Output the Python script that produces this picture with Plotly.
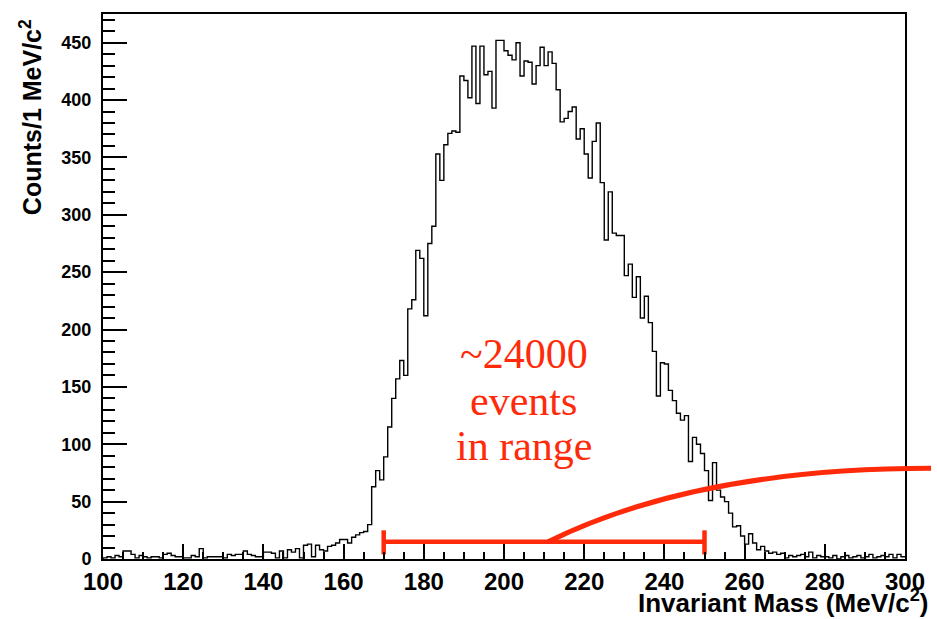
import plotly.graph_objects as go

# ---- data ----
bin_start = 100
bin_width = 1
counts = [
    1, 2, 1, 3, 2, 7, 7, 4, 1, 3,          # 100-109
    2, 1, 2, 2, 1, 4, 5, 3, 2, 2,          # 110-119
    1, 1, 3, 2, 9, 1, 2, 2, 2, 2,          # 120-129
    1, 4, 3, 4, 4, 7, 4, 3, 2, 2,          # 130-139
    6, 6, 5, 1, 7, 1, 8, 6, 9, 1,          # 140-149
    12, 13, 2, 12, 8, 7, 11, 12, 14, 17,   # 150-159
    17, 14, 19, 21, 23, 24, 30, 63, 77, 69,          # 160-169
    89, 115, 140, 157, 173, 160, 218, 226, 269, 262,  # 170-179
    212, 275, 290, 353, 330, 361, 371, 373, 372, 421, # 180-189
    417, 402, 447, 397, 447, 422, 425, 393, 452, 452, # 190-199
    443, 439, 435, 450, 421, 434, 433, 414, 430, 446, # 200-209
    430, 442, 432, 409, 381, 384, 390, 394, 366, 375, # 210-219
    353, 332, 364, 380, 328, 278, 320, 284, 282, 282, # 220-229
    247, 257, 228, 246, 210, 229, 206, 181, 142, 171, # 230-239
    170, 147, 138, 127, 121, 125, 85, 106, 100, 92,   # 240-249
    77, 51, 84, 60, 54, 50, 40, 28, 29, 20,           # 250-259
    13, 22, 14, 8, 11, 7, 5, 6, 4, 5,                 # 260-269
    1, 3, 2, 3, 4, 2, 6, 1, 3, 2,                     # 270-279
    2, 1, 3, 0, 2, 3, 1, 2, 3, 1,                     # 280-289
    2, 4, 1, 2, 3, 2, 4, 1, 4, 2,                     # 290-299
]
x_range = [100, 300]
y_range = [0, 475]
x_tick_vals = [100, 120, 140, 160, 180, 200, 220, 240, 260, 280, 300]
y_tick_vals = [0, 50, 100, 150, 200, 250, 300, 350, 400, 450]

# selection range marker and arc (in data units)
sel_lo, sel_hi, sel_level = 170, 250, 15
arc_start = (211, 15)
arc_ctrl = (248, 79)
arc_end = (306.5, 79)

RED = "#FF2A0A"

# ---- build histogram outline ----
edges = [bin_start + i * bin_width for i in range(len(counts))]
hx = [edges[0]] + edges + [edges[-1] + bin_width]
hy = [0] + counts + [counts[-1]]

fig = go.Figure()
fig.add_trace(go.Scatter(
    x=hx, y=hy, mode="lines", line=dict(color="black", width=1.4, shape="hv"),
    hoverinfo="skip", showlegend=False,
))

# red range bar with end caps
fig.add_trace(go.Scatter(
    x=[sel_lo, sel_hi], y=[sel_level, sel_level], mode="lines",
    line=dict(color=RED, width=4.5), showlegend=False, hoverinfo="skip",
))
for xc in (sel_lo, sel_hi):
    fig.add_trace(go.Scatter(
        x=[xc, xc], y=[sel_level - 11, sel_level + 10], mode="lines",
        line=dict(color=RED, width=4.5), showlegend=False, hoverinfo="skip",
    ))

W, H = 937, 619
ml, mr, mt, mb = 103, 26, 12, 60
pw, ph = W - ml - mr, H - mt - mb


def dx(m):
    return (m - x_range[0]) / (x_range[1] - x_range[0])


def dy(c):
    return (c - y_range[0]) / (y_range[1] - y_range[0])


def px_x(X):
    return (X - ml) / pw


def px_y(Y):
    return (H - mb - Y) / ph


path = "M {},{} Q {},{} {},{}".format(
    dx(arc_start[0]), dy(arc_start[1]),
    dx(arc_ctrl[0]), dy(arc_ctrl[1]),
    dx(arc_end[0]), dy(arc_end[1]),
)
fig.add_shape(type="path", path=path, xref="paper", yref="paper",
              line=dict(color=RED, width=5))

serif = dict(family="Liberation Serif, Times New Roman, serif", size=42, color=RED)
for txt, Y in (("~24000", 353), ("events", 400), ("in range", 446)):
    fig.add_annotation(text=txt, x=px_x(527), y=px_y(Y), xref="paper", yref="paper",
                       showarrow=False, xanchor="center", yanchor="middle", font=serif)

bold = dict(family="Liberation Sans, Arial, sans-serif", color="black", weight="bold")
fig.add_annotation(text="Invariant Mass (MeV/c<sup>2</sup>)", x=px_x(936), y=px_y(602),
                   xref="paper", yref="paper", showarrow=False, xanchor="right",
                   yanchor="middle", font=dict(size=26, **bold))
fig.add_annotation(text="Counts/1 MeV/c<sup>2</sup>", x=px_x(30), y=px_y(116),
                   xref="paper", yref="paper", showarrow=False, xanchor="center",
                   yanchor="middle", textangle=-90, font=dict(size=25, **bold))

fig.update_xaxes(
    range=x_range, tickvals=x_tick_vals, ticks="inside", ticklen=15, tickwidth=1.5,
    tickcolor="black", showline=True, linewidth=2, linecolor="black", mirror=True,
    showgrid=False, zeroline=False, tickfont=dict(size=24, **bold),
    minor=dict(dtick=5, tick0=100, ticks="inside", ticklen=7, tickwidth=1.5,
               tickcolor="black", showgrid=False),
)
fig.update_yaxes(
    range=y_range, tickvals=y_tick_vals, ticks="inside", ticklen=24, tickwidth=1.5,
    tickcolor="black", showline=True, linewidth=2, linecolor="black", mirror=True,
    showgrid=False, zeroline=False, tickfont=dict(size=18, **bold),
    ticklabelstandoff=6,
    minor=dict(dtick=10, tick0=0, ticks="inside", ticklen=12, tickwidth=1.5,
               tickcolor="black", showgrid=False),
)
fig.update_layout(
    width=W, height=H, margin=dict(l=ml, r=mr, t=mt, b=mb),
    paper_bgcolor="white", plot_bgcolor="white", showlegend=False,
)
fig.write_html("out.html", config={"displayModeBar": False},
               post_script="document.body.style.margin='0px';document.body.style.overflow='hidden';")
